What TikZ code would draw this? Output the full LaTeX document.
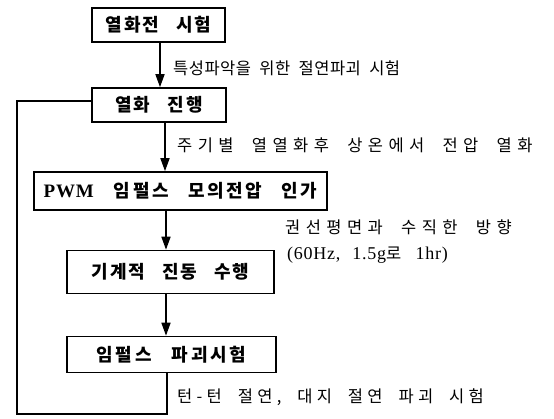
\documentclass[tikz,border=0pt]{standalone}
\usepackage{fontspec}
\setmainfont{Liberation Serif}
\newfontfamily\lat{Liberation Serif}[LetterSpace=4]
\newfontfamily\krb{Noto Sans CJK KR}[LetterSpace=11,WordSpace=2.8]
\newfontfamily\kr{Noto Sans CJK KR}[LetterSpace=3,WordSpace=2.0]
\usetikzlibrary{arrows.meta}
\newcommand{\lsp}[1]{\addfontfeatures{LetterSpace=#1}}
\begin{document}
\begin{tikzpicture}[x=1pt,y=-1pt,
  boxst/.style={draw,line width=1.6pt,inner sep=0pt,font=\krb\bfseries\fontsize{18}{20}\selectfont},
  lbl/.style={anchor=west,inner sep=0pt,font=\kr\fontsize{16.5}{18}\selectfont},
  arr/.style={line width=1.6pt,-{Triangle[length=13pt,width=9pt]}},
  lin/.style={line width=1.6pt}]
\useasboundingbox (0,0) rectangle (554,419);
\node[boxst,minimum width=133pt,minimum height=34pt] (b1) at (158.5,25) {열화전 시험};
\node[boxst,minimum width=134pt,minimum height=34pt] (b2) at (159,105) {열화 진행};
\node[boxst,minimum width=293pt,minimum height=38pt] (b3) at (180.5,191) {{\lat\bfseries\fontsize{19}{20}\selectfont PWM}\hspace{3pt} \lsp{15}임펄스 모의전압 인가};
\node[boxst,minimum width=207pt,minimum height=43pt] (b4) at (170.5,272) {기계적 진동 수행};
\node[boxst,minimum width=209pt,minimum height=36pt] (b5) at (171.5,354.5) {\lsp{16}임펄스 파괴시험};
\coordinate (c1) at (160,0);
\draw[arr] (b1.south -| c1) -- (b2.north -| c1);
\coordinate (c2) at (165,0);
\draw[arr] (b2.south -| c2) -- (b3.north -| c2);
\coordinate (c3) at (166,0);
\draw[arr] (b3.south -| c3) -- (b4.north -| c3);
\draw[arr] (b4.south -| c3) -- (b5.north -| c3);
\coordinate (c5) at (167,414);
\coordinate (c6) at (17,414);
\coordinate (c7) at (17,101);
\draw[lin] (b5.south -| c5) -- (c5) -- (c6) -- (c7) -- (b2.west |- c7);
\node[lbl] (l1) at (173,68) {특성파악을 위한 절연파괴 시험};
\node[lbl] (l2) at (177,145) {\lsp{33}주기별 열열화후 상온에서 전압 열화};
\node[lbl] (l3) at (285,227) {\lsp{33}권선평면과 수직한 방향};
\node[lbl] (l4) at (287,255) {{\lat\fontsize{18}{20}\selectfont (60Hz,\hspace{7pt} 1.5g}로\hspace{6pt} {\lat\fontsize{18}{20}\selectfont 1hr)}};
\node[lbl] (l5) at (177,397) {\lsp{26}턴-턴 절연, 대지 절연 파괴 시험};
\end{tikzpicture}
\end{document}
